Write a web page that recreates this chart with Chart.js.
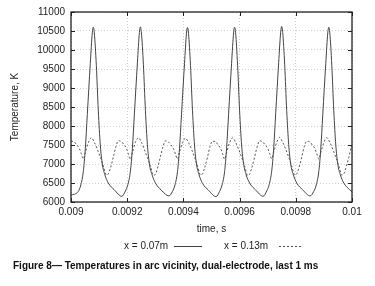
<!DOCTYPE html>
<html>
<head>
<meta charset="utf-8">
<script src="https://cdn.jsdelivr.net/npm/chart.js@4.4.1/dist/chart.umd.min.js"></script>
<style>
  html, body { margin: 0; padding: 0; background: #fff; }
  #wrap { width: 375px; height: 286px; }
</style>
</head>
<body>
<div id="wrap"><canvas id="c"></canvas></div>
<script>
// time axis (s) and temperatures (K)
const seriesNames = ['x = 0.07m', 'x = 0.13m'];
const xTicks = [0.009, 0.0092, 0.0094, 0.0096, 0.0098, 0.01];
const xTickLabels = ['0.009', '0.0092', '0.0094', '0.0096', '0.0098', '0.01'];

const solidTime = [
  0.0090000,
  0.0090260, 0.0090349, 0.0090438, 0.0090509, 0.0090580, 0.0090687, 0.0090758, 0.0090794, 0.0090830, 0.0090901, 0.0090972, 0.0091043, 0.0091114, 0.0091203, 0.0091328, 0.0091541, 0.0091808,
  0.0091936, 0.0092025, 0.0092114, 0.0092185, 0.0092256, 0.0092363, 0.0092434, 0.0092470, 0.0092506, 0.0092577, 0.0092648, 0.0092719, 0.0092790, 0.0092879, 0.0093004, 0.0093217, 0.0093484,
  0.0093612, 0.0093701, 0.0093790, 0.0093861, 0.0093932, 0.0094039, 0.0094110, 0.0094146, 0.0094182, 0.0094253, 0.0094324, 0.0094395, 0.0094466, 0.0094555, 0.0094680, 0.0094893, 0.0095160,
  0.0095288, 0.0095377, 0.0095466, 0.0095537, 0.0095608, 0.0095715, 0.0095786, 0.0095822, 0.0095858, 0.0095929, 0.0096000, 0.0096071, 0.0096142, 0.0096231, 0.0096356, 0.0096569, 0.0096836,
  0.0096964, 0.0097053, 0.0097142, 0.0097213, 0.0097284, 0.0097391, 0.0097462, 0.0097498, 0.0097534, 0.0097605, 0.0097676, 0.0097747, 0.0097818, 0.0097907, 0.0098032, 0.0098245, 0.0098512,
  0.0098640, 0.0098729, 0.0098818, 0.0098889, 0.0098960, 0.0099067, 0.0099138, 0.0099174, 0.0099210, 0.0099281, 0.0099352, 0.0099423, 0.0099494, 0.0099583, 0.0099708, 0.0099921, 0.0100000
];
const solidTemp = [
  6180,
  6280, 6450, 6800, 7400, 8300, 9650, 10450, 10600, 10450, 9600, 8400, 7500, 7000, 6720, 6500, 6320, 6150,
  6290, 6460, 6810, 7410, 8320, 9660, 10460, 10610, 10450, 9610, 8410, 7510, 7000, 6730, 6500, 6310, 6160,
  6280, 6450, 6800, 7400, 8300, 9640, 10440, 10590, 10440, 9590, 8400, 7500, 7000, 6720, 6490, 6310, 6140,
  6280, 6450, 6800, 7410, 8310, 9650, 10450, 10600, 10450, 9600, 8400, 7500, 7010, 6720, 6500, 6320, 6150,
  6290, 6460, 6810, 7410, 8320, 9670, 10470, 10620, 10460, 9610, 8410, 7510, 7000, 6730, 6500, 6320, 6160,
  6280, 6450, 6800, 7400, 8300, 9650, 10450, 10600, 10450, 9600, 8400, 7500, 7000, 6720, 6500, 6320, 6270
];

const dashTime = [
  0.0090000,
  0.0090118, 0.0090207, 0.0090296, 0.0090367, 0.0090438, 0.0090509, 0.0090616, 0.0090723, 0.0090830, 0.0090936, 0.0091043, 0.0091150, 0.0091257, 0.0091328, 0.0091399, 0.0091506, 0.0091595, 0.0091684,
  0.0091794, 0.0091883, 0.0091972, 0.0092043, 0.0092114, 0.0092185, 0.0092292, 0.0092399, 0.0092506, 0.0092612, 0.0092719, 0.0092826, 0.0092933, 0.0093004, 0.0093075, 0.0093182, 0.0093271, 0.0093360,
  0.0093470, 0.0093559, 0.0093648, 0.0093719, 0.0093790, 0.0093861, 0.0093968, 0.0094075, 0.0094182, 0.0094288, 0.0094395, 0.0094502, 0.0094609, 0.0094680, 0.0094751, 0.0094858, 0.0094947, 0.0095036,
  0.0095146, 0.0095235, 0.0095324, 0.0095395, 0.0095466, 0.0095537, 0.0095644, 0.0095751, 0.0095858, 0.0095964, 0.0096071, 0.0096178, 0.0096285, 0.0096356, 0.0096427, 0.0096534, 0.0096623, 0.0096712,
  0.0096822, 0.0096911, 0.0097000, 0.0097071, 0.0097142, 0.0097213, 0.0097320, 0.0097427, 0.0097534, 0.0097640, 0.0097747, 0.0097854, 0.0097961, 0.0098032, 0.0098103, 0.0098210, 0.0098299, 0.0098388,
  0.0098498, 0.0098587, 0.0098676, 0.0098747, 0.0098818, 0.0098889, 0.0098996, 0.0099103, 0.0099210, 0.0099316, 0.0099423, 0.0099530, 0.0099637, 0.0099708, 0.0099779, 0.0099886, 0.0099975, 0.0100000
];
const dashTemp = [
  7600,
  7580, 7500, 7410, 7270, 7130, 7300, 7560, 7690, 7570, 7390, 7180, 6950, 6710, 6740, 6880, 7180, 7450, 7610,
  7590, 7510, 7410, 7260, 7120, 7300, 7570, 7690, 7570, 7380, 7170, 6950, 6700, 6730, 6880, 7190, 7450, 7610,
  7580, 7500, 7400, 7260, 7130, 7310, 7560, 7680, 7560, 7390, 7180, 6940, 6710, 6740, 6890, 7180, 7460, 7600,
  7590, 7500, 7410, 7270, 7130, 7300, 7560, 7690, 7570, 7390, 7180, 6950, 6700, 6730, 6880, 7180, 7450, 7610,
  7580, 7500, 7410, 7270, 7140, 7310, 7570, 7700, 7570, 7390, 7180, 6950, 6710, 6740, 6880, 7180, 7450, 7600,
  7580, 7500, 7410, 7270, 7130, 7300, 7560, 7690, 7570, 7390, 7180, 6950, 6710, 6740, 6880, 7180, 7450, 7500
];

const FONT = "'Liberation Sans', Arial, Helvetica, sans-serif";

// gnuplot style box: full border with inward tick marks
const frame = {
  id: 'frame',
  afterDatasetsDraw(chart) {
    const { ctx, chartArea: a, scales } = chart;
    ctx.save();
    ctx.strokeStyle = '#222';
    ctx.lineWidth = 1;
    ctx.beginPath();
    scales.x.ticks.forEach(t => {
      const px = Math.round(scales.x.getPixelForValue(t.value)) + 0.5;
      ctx.moveTo(px, a.bottom); ctx.lineTo(px, a.bottom - 4);
      ctx.moveTo(px, a.top); ctx.lineTo(px, a.top + 4);
    });
    scales.y.ticks.forEach(t => {
      const py = Math.round(scales.y.getPixelForValue(t.value)) + 0.5;
      ctx.moveTo(a.left, py); ctx.lineTo(a.left + 4, py);
      ctx.moveTo(a.right, py); ctx.lineTo(a.right - 4, py);
    });
    ctx.stroke();
    ctx.lineWidth = 1.3;
    ctx.strokeRect(a.left, a.top, a.right - a.left, a.bottom - a.top);
    ctx.restore();
  }
};

// key below the plot (text then line sample) and figure caption
const keyAndCaption = {
  id: 'keyAndCaption',
  afterDraw(chart) {
    const { ctx } = chart;
    ctx.save();
    ctx.font = '10px ' + FONT;
    ctx.fillStyle = '#222';
    ctx.textBaseline = 'middle';
    const ky = 246;
    const textX = [124, 224];
    const lineX = [[174, 202], [279, 303]];
    chart.data.datasets.forEach((ds, i) => {
      ctx.fillText(ds.label, textX[i], ky);
      ctx.strokeStyle = ds.borderColor;
      ctx.lineWidth = 1;
      ctx.setLineDash(ds.borderDash || []);
      ctx.beginPath();
      ctx.moveTo(lineX[i][0], ky + 0.5);
      ctx.lineTo(lineX[i][1], ky + 0.5);
      ctx.stroke();
      ctx.setLineDash([]);
    });
    ctx.font = 'bold 10px ' + FONT;
    ctx.fillStyle = '#111';
    ctx.fillText('Figure 8\u2014 Temperatures in arc vicinity, dual-electrode, last 1 ms', 13, 266);
    ctx.restore();
  }
};

new Chart(document.getElementById('c'), {
  type: 'line',
  data: {
    datasets: [
      {
        label: seriesNames[0],
        data: solidTime.map((t, i) => ({ x: t, y: solidTemp[i] })),
        borderColor: '#444',
        borderWidth: 1,
        pointRadius: 0,
        cubicInterpolationMode: 'monotone',
        fill: false
      },
      {
        label: seriesNames[1],
        data: dashTime.map((t, i) => ({ x: t, y: dashTemp[i] })),
        borderColor: '#555',
        borderWidth: 1,
        borderDash: [2, 2],
        pointRadius: 0,
        cubicInterpolationMode: 'monotone',
        fill: false
      }
    ]
  },
  options: {
    responsive: true,
    maintainAspectRatio: false,
    animation: false,
    layout: { padding: { left: 0, top: 10, right: 23, bottom: 44 } },
    plugins: {
      legend: { display: false },
      tooltip: { enabled: false }
    },
    scales: {
      x: {
        type: 'linear',
        min: 0.009,
        max: 0.01,
        afterBuildTicks: axis => { axis.ticks = xTicks.map(v => ({ value: v })); },
        afterFit: axis => { axis.height = 40; },
        ticks: {
          padding: 4,
          maxRotation: 0,
          autoSkip: false,
          color: '#222',
          font: { family: FONT, size: 10 },
          callback: (v, i) => xTickLabels[i]
        },
        grid: { color: '#cfcfcf', drawTicks: false },
        border: { display: false, dash: [1, 2] },
        title: {
          display: true,
          text: 'time, s',
          color: '#222',
          font: { family: FONT, size: 10 },
          padding: { top: 0, bottom: 7 }
        }
      },
      y: {
        min: 6000,
        max: 11000,
        afterFit: axis => { axis.width = 71; },
        ticks: {
          stepSize: 500,
          padding: 6,
          color: '#222',
          font: { family: FONT, size: 10 },
          callback: v => String(v)
        },
        grid: { color: '#cfcfcf', drawTicks: false },
        border: { display: false, dash: [1, 2] },
        title: {
          display: true,
          text: 'Temperature, K',
          color: '#222',
          font: { family: FONT, size: 10 },
          padding: { top: 9, bottom: 0 }
        }
      }
    }
  },
  plugins: [frame, keyAndCaption]
});
</script>
</body>
</html>
